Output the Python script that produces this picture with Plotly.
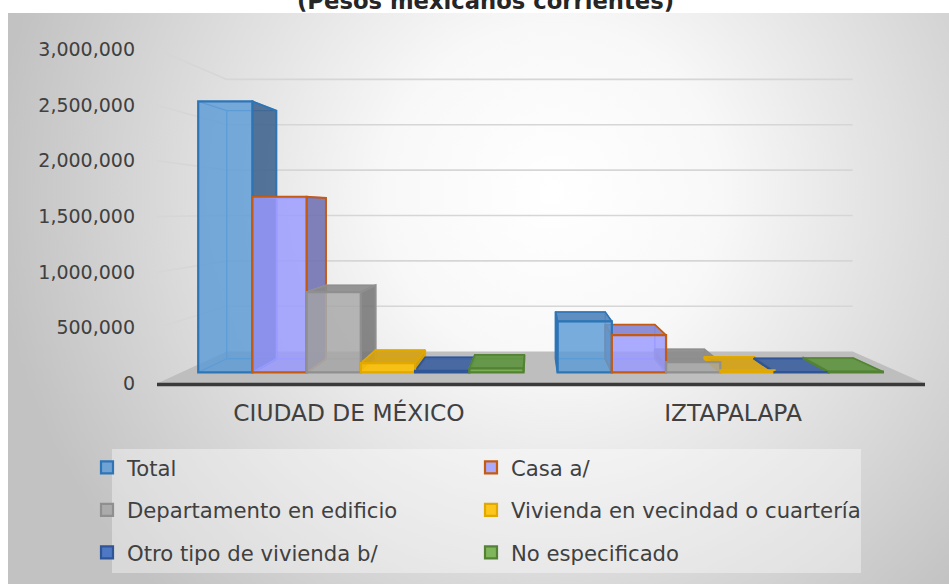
import base64
import plotly.graph_objects as go

# ---------------- data ----------------
categories = ["CIUDAD DE MÉXICO", "IZTAPALAPA"]
series_names = ["Total", "Casa a/", "Departamento en edificio",
                "Vivienda en vecindad o cuartería", "Otro tipo de vivienda b/", "No especificado"]
total = [2601323, 490000]
casa = [1686000, 358000]
departamento = [770000, 100000]
vecindad = [90000, 20000]
otro_tipo = [15000, 4000]
no_especificado = [40000, 8000]
tick_values = [0, 500000, 1000000, 1500000, 2000000, 2500000, 3000000]
title_text = "(Pesos mexicanos corrientes)"

series_values = [total, casa, departamento, vecindad, otro_tipo, no_especificado]

# ---------------- styles ----------------
front_fill = ["rgba(91,155,213,0.82)", "rgba(153,153,255,0.82)", "rgba(165,165,165,0.80)",
              "rgba(255,192,0,0.88)", "rgba(68,114,196,0.92)", "rgba(112,173,71,0.88)"]
edge_col = ["#2e75b6", "#c55a11", "#8f8f8f", "#e0a800", "#2f5597", "#548235"]
inner_col = ["#5f9fd8", "#a3a3ff", "#adadad", "#f5c000", "#4a76c4", "#74ae4a"]
side_fill = ["rgba(62,98,140,0.88)", "rgba(112,112,178,0.88)", "rgba(118,118,118,0.88)",
             "rgba(205,155,10,0.9)", "rgba(55,90,155,0.9)", "rgba(88,140,58,0.9)"]
top_fill = ["rgba(80,130,185,0.9)", "rgba(130,130,210,0.9)", "rgba(138,138,138,0.9)",
            "rgba(212,162,20,0.92)", "rgba(62,98,160,0.92)", "rgba(94,148,64,0.92)"]
legend_of = ["legend", "legend2", "legend", "legend2", "legend", "legend2"]

FONT = "DejaVu Sans"
TXT = "#404040"

# ---------------- geometry (pseudo-3D projection) ----------------
W, H = 949, 584
FX0, FX1 = 157.0, 925.0          # front edge of floor (pixels)
FY0 = 383.5                       # value 0 on the front plane
PXU = (383.5 - 49.5) / 3e6        # pixels per unit on the front plane
VX, VY = 534.0, 211.0             # vanishing point
S_FRONT = 0.936                   # bar front plane
S_BACK = S_FRONT * 0.915          # bar back plane
S_WALL = 0.815                    # back wall
BARGAP = 0.095
CW = (FX1 - FX0) / len(categories)
NS = len(series_values)
BW = (1 - BARGAP) / NS


def front_plane(xc, v):
    return FX0 + (xc + 0.5) * CW, FY0 - v * PXU


def proj(xc, v, s):
    X, Y = front_plane(xc, v)
    return VX + (X - VX) * s, VY + (Y - VY) * s


def inv_x(X):
    return ((X - VX) / S_FRONT + VX - FX0) / CW - 0.5


def inv_y(Y):
    return (FY0 - ((Y - VY) / S_FRONT + VY)) / PXU


fig = go.Figure()

# floor
floor_pts = [proj(-0.5, 0, 1), proj(len(categories) - 0.5, 0, 1),
             proj(len(categories) - 0.5, 0, S_WALL), proj(-0.5, 0, S_WALL)]
fig.add_trace(go.Scatter(x=[p[0] for p in floor_pts] + [floor_pts[0][0]],
                         y=[p[1] for p in floor_pts] + [floor_pts[0][1]],
                         fill="toself", fillcolor="#bebebe", mode="lines",
                         line=dict(width=0, color="#bebebe"), showlegend=False, hoverinfo="skip"))

# gridlines (side wall + back wall)
gx, gy = [], []
for v in tick_values[1:]:
    for p in [proj(-0.5, v, 1), proj(-0.5, v, S_WALL), proj(len(categories) - 0.5, v, S_WALL)]:
        gx.append(p[0]); gy.append(p[1])
    gx.append(None); gy.append(None)
fig.add_trace(go.Scatter(x=gx, y=gy, mode="lines", line=dict(color="#d6d6d6", width=1.6),
                         showlegend=False, hoverinfo="skip"))

# front edge of floor
fe = [proj(-0.5, 0, 1), proj(len(categories) - 0.5, 0, 1)]
fig.add_trace(go.Scatter(x=[fe[0][0], fe[1][0]], y=[fe[0][1] + 1, fe[1][1] + 1], mode="lines",
                         line=dict(color="#3a3a3a", width=3.5), showlegend=False, hoverinfo="skip"))

# depth faces of every bar
for i, vals in enumerate(series_values):
    lx, ly = [], []
    sx, sy = [], []
    tx, ty = [], []
    for c, v in enumerate(vals):
        xl = c - (1 - BARGAP) / 2 + i * BW
        xr = xl + BW
        FLb, FLt, FRb, FRt = proj(xl, 0, S_FRONT), proj(xl, v, S_FRONT), proj(xr, 0, S_FRONT), proj(xr, v, S_FRONT)
        BLb, BLt, BRb, BRt = proj(xl, 0, S_BACK), proj(xl, v, S_BACK), proj(xr, 0, S_BACK), proj(xr, v, S_BACK)
        for seg in [[BLb, BLt, BRt, BRb, BLb], [FLt, BLt], [FLb, BLb], [FRt, BRt], [FRb, BRb]]:
            for p in seg:
                lx.append(p[0]); ly.append(p[1])
            lx.append(None); ly.append(None)
        if FRt[0] < VX:
            poly = [FRb, FRt, BRt, BRb, FRb]
            sx += [p[0] for p in poly] + [None]; sy += [p[1] for p in poly] + [None]
        if FLt[0] > VX:
            poly = [FLb, FLt, BLt, BLb, FLb]
            sx += [p[0] for p in poly] + [None]; sy += [p[1] for p in poly] + [None]
        if FLt[1] > VY:
            poly = [FLt, FRt, BRt, BLt, FLt]
            tx += [p[0] for p in poly] + [None]; ty += [p[1] for p in poly] + [None]
    fig.add_trace(go.Scatter(x=lx, y=ly, mode="lines", line=dict(color=inner_col[i], width=1.3),
                             showlegend=False, hoverinfo="skip"))
    if sx:
        fig.add_trace(go.Scatter(x=sx, y=sy, mode="lines", fill="toself", fillcolor=side_fill[i],
                                 line=dict(color=edge_col[i], width=2), showlegend=False, hoverinfo="skip"))
    if tx:
        fig.add_trace(go.Scatter(x=tx, y=ty, mode="lines", fill="toself", fillcolor=top_fill[i],
                                 line=dict(color=edge_col[i], width=1.6), showlegend=False, hoverinfo="skip"))

# front faces: real bars on the bar-plane axes
for i, vals in enumerate(series_values):
    fig.add_trace(go.Bar(x=list(range(len(categories))), y=vals, name=series_names[i],
                         marker=dict(color=front_fill[i], line=dict(color=edge_col[i], width=2.2)),
                         xaxis="x2", yaxis="y2", legend=legend_of[i], legendgroup=series_names[i],
                         hoverinfo="skip"))

# label axes (front plane)
fig.add_trace(go.Scatter(x=categories, y=[0] * len(categories), mode="markers",
                         marker=dict(opacity=0), xaxis="x3", yaxis="y3",
                         showlegend=False, hoverinfo="skip"))

# background gradient panel
svg = ('<svg xmlns="http://www.w3.org/2000/svg" width="941" height="571" viewBox="0 0 941 571" '
       'preserveAspectRatio="none"><defs><radialGradient id="g" gradientUnits="userSpaceOnUse" '
       'cx="545" cy="180" r="560"><stop offset="0" stop-color="#ffffff"/>'
       '<stop offset="0.3" stop-color="#f8f8f8"/><stop offset="1" stop-color="#c2c2c2"/>'
       '</radialGradient></defs><rect width="941" height="571" fill="url(#g)"/></svg>')
uri = "data:image/svg+xml;base64," + base64.b64encode(svg.encode()).decode()

LEG_FONT = dict(family=FONT, size=21.2, color=TXT)

fig.update_layout(
    width=W, height=H, autosize=False,
    margin=dict(l=0, r=0, t=0, b=0, pad=0, autoexpand=False),
    paper_bgcolor="white", plot_bgcolor="rgba(0,0,0,0)",
    barmode="group", bargap=BARGAP, bargroupgap=0,
    hovermode=False,
    images=[dict(source=uri, xref="paper", yref="paper", x=8 / W, y=1 - 13 / H,
                 sizex=(W - 8) / W, sizey=(H - 13) / H, xanchor="left", yanchor="top",
                 sizing="stretch", layer="below")],
    xaxis=dict(range=[0, W], visible=False, domain=[0, 1], fixedrange=True),
    yaxis=dict(range=[H, 0], visible=False, domain=[0, 1], fixedrange=True),
    xaxis2=dict(range=[inv_x(0), inv_x(W)], overlaying="x", anchor="y2", visible=False),
    yaxis2=dict(range=[inv_y(H), inv_y(0)], overlaying="y", anchor="x2", visible=False),
    xaxis3=dict(domain=[FX0 / W, FX1 / W], anchor="y3", type="category",
                categoryarray=categories, range=[-0.5, len(categories) - 0.5],
                showgrid=False, zeroline=False, showline=False, ticks="",
                tickfont=dict(family=FONT, size=23.3, color=TXT), ticklabelstandoff=13),
    yaxis3=dict(domain=[1 - 383.5 / H, 1 - 49.5 / H], anchor="x3", range=[0, 3e6],
                tickvals=tick_values, tickformat=",", showgrid=False, zeroline=False,
                showline=False, ticks="", ticklabelstandoff=21,
                tickfont=dict(family=FONT, size=19, color=TXT)),
    legend=dict(x=87 / W, y=1 - 447 / H, xanchor="left", yanchor="top",
                bgcolor="rgba(0,0,0,0)", tracegroupgap=12, font=LEG_FONT),
    legend2=dict(x=471 / W, y=1 - 447 / H, xanchor="left", yanchor="top",
                 bgcolor="rgba(0,0,0,0)", tracegroupgap=12, font=LEG_FONT),
    shapes=[dict(type="rect", xref="x", yref="y", x0=112, x1=861, y0=449, y1=573,
                 fillcolor="rgba(255,255,255,0.38)", line=dict(width=0), layer="below")],
    annotations=[dict(text="<b>" + title_text + "</b>", xref="paper", yref="paper",
                      x=486 / W, y=1 - 1 / H, xanchor="center", yanchor="middle",
                      showarrow=False, font=dict(family=FONT, size=22.7, color="#262626"))],
)

fig.write_html("out.html", config={"displayModeBar": False},
               post_script="document.body.style.margin='0px';")
